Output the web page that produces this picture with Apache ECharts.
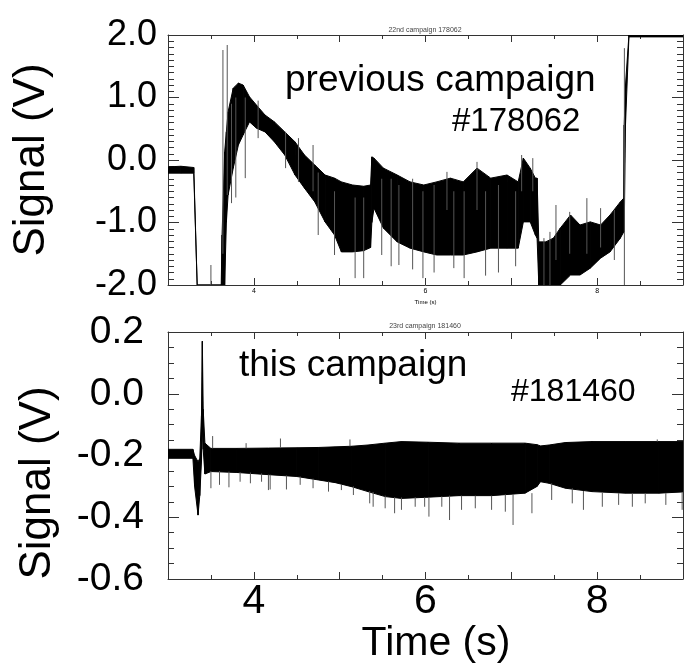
<!DOCTYPE html>
<html><head><meta charset="utf-8">
<script src="https://cdn.jsdelivr.net/npm/echarts@6/dist/echarts.min.js"></script>
<style>html,body{margin:0;padding:0;background:#fff}#c{width:689px;height:667px}</style>
</head><body><div id="c"></div>
<script>
// ---------- DATA ----------
// Top panel: 22nd campaign #178062 — envelope of the noisy signal (V)
const topT  = [3.00, 3.15, 3.30, 3.34, 3.62, 3.63, 3.66, 3.68, 3.70, 3.76, 3.82, 3.875, 3.95, 4.03, 4.13, 4.24, 4.36, 4.48, 4.59, 4.71, 4.83, 4.94, 5.02, 5.15, 5.28, 5.36, 5.375, 5.40, 5.51, 5.67, 5.82, 5.98, 6.13, 6.29, 6.44, 6.60, 6.76, 6.95, 7.08, 7.14, 7.22, 7.28, 7.30, 7.32, 7.40, 7.49, 7.57, 7.69, 7.80, 7.92, 8.04, 8.15, 8.27, 8.31, 8.315, 8.33, 8.37, 9.00];
const topHi = [-0.11, -0.10, -0.12, -2.00, -2.00, -1.20, 0.13, 0.45, 0.77, 1.15, 1.23, 1.20, 1.01, 0.88, 0.72, 0.61, 0.45, 0.29, 0.08, -0.08, -0.24, -0.29, -0.35, -0.40, -0.42, -0.40, 0.05, 0.03, -0.13, -0.24, -0.35, -0.40, -0.35, -0.29, -0.35, -0.13, -0.29, -0.24, -0.35, 0.03, -0.13, -0.29, -0.29, -1.31, -1.31, -1.25, -1.09, -0.88, -1.04, -0.99, -1.04, -0.88, -0.67, -0.61, 0.56, 1.20, 2.00, 2.00];
const topLo = [-0.21, -0.21, -0.21, -2.00, -2.00, -2.00, -2.00, -1.00, -0.56, -0.13, 0.24, 0.40, 0.61, 0.51, 0.45, 0.29, 0.08, -0.24, -0.45, -0.67, -0.99, -1.20, -1.47, -1.47, -1.45, -1.40, -1.00, -0.77, -1.09, -1.31, -1.41, -1.47, -1.52, -1.52, -1.52, -1.47, -1.41, -1.41, -1.41, -0.99, -0.99, -1.20, -1.25, -2.00, -2.00, -2.00, -2.00, -1.84, -1.84, -1.73, -1.57, -1.47, -1.25, -1.15, -1.15, 0.56, 1.97, 1.97];
// Top panel: isolated spikes sticking out of the envelope
const topSpikeT  = [3.50, 3.64, 3.69, 3.74, 3.79, 3.90, 4.05, 4.37, 4.52, 4.69, 4.75, 4.94, 5.18, 5.28, 5.49, 5.60, 5.69, 5.85, 5.97, 6.10, 6.25, 6.33, 6.45, 6.60, 6.70, 6.85, 7.05, 7.12, 7.25, 7.38, 7.45, 7.52, 7.68, 7.88, 8.04, 8.20, 8.317];
const topSpikeLo = [-2.00, -1.50, -0.56, -0.69, -0.60, -0.29, 0.35, -0.13, -0.35, -0.50, -1.20, -1.52, -1.89, -1.89, -1.52, -1.70, -1.68, -1.75, -1.89, -1.80, -0.80, -1.73, -1.89, -0.80, -1.85, -1.80, -1.70, -0.50, -0.50, -2.00, -2.00, -1.60, -1.50, -1.50, -1.40, -1.60, -2.00];
const topSpikeHi = [-1.68, 1.76, 1.84, 0.90, 1.00, 1.00, 0.95, 0.45, 0.35, 0.24, -0.20, -0.50, -0.60, -0.60, -0.30, -0.30, -0.40, -0.30, -0.50, -0.40, -0.19, -0.50, -0.50, -0.03, -0.50, -0.40, -0.50, 0.08, 0.03, -1.25, -1.15, -0.72, -0.83, -0.61, -0.77, -0.80, 1.79];

// Bottom panel: 23rd campaign #181460 — envelope of the noisy signal (V)
const botT  = [3.00, 3.29, 3.31, 3.35, 3.37, 3.39, 3.40, 3.41, 3.43, 3.50, 3.80, 4.17, 4.50, 4.75, 4.95, 5.14, 5.33, 5.53, 5.72, 6.03, 6.39, 6.77, 7.16, 7.30, 7.34, 7.44, 7.63, 7.94, 8.33, 8.72, 9.00];
const botHi = [-0.180, -0.180, -0.200, -0.220, -0.210, -0.070, 0.170, -0.050, -0.160, -0.177, -0.177, -0.176, -0.175, -0.174, -0.172, -0.170, -0.166, -0.160, -0.155, -0.157, -0.160, -0.160, -0.160, -0.165, -0.169, -0.166, -0.158, -0.155, -0.155, -0.155, -0.155];
const botLo = [-0.209, -0.209, -0.300, -0.393, -0.330, -0.220, -0.100, -0.180, -0.260, -0.252, -0.255, -0.262, -0.268, -0.279, -0.288, -0.301, -0.317, -0.333, -0.339, -0.335, -0.330, -0.330, -0.322, -0.300, -0.285, -0.290, -0.306, -0.317, -0.322, -0.322, -0.318];
// Bottom panel: isolated spikes
const botSpikeT  = [3.50, 3.52, 3.60, 3.71, 3.84, 3.91, 3.96, 4.09, 4.17, 4.19, 4.31, 4.38, 4.54, 4.69, 4.87, 5.02, 5.12, 5.16, 5.35, 5.39, 5.53, 5.64, 5.72, 5.88, 5.99, 6.04, 6.19, 6.28, 6.42, 6.58, 6.77, 6.93, 7.02, 7.24, 7.47, 7.71, 7.84, 8.06, 8.25, 8.41, 8.56, 8.70, 8.80, 8.99];
const botSpikeLo = [-0.306, -0.177, -0.295, -0.303, -0.285, -0.177, -0.290, -0.285, -0.312, -0.310, -0.176, -0.310, -0.295, -0.306, -0.317, -0.312, -0.170, -0.328, -0.355, -0.366, -0.371, -0.387, -0.376, -0.366, -0.366, -0.398, -0.366, -0.409, -0.376, -0.371, -0.376, -0.382, -0.425, -0.387, -0.344, -0.355, -0.376, -0.366, -0.360, -0.366, -0.355, -0.155, -0.360, -0.376];
const botSpikeHi = [-0.250, -0.137, -0.250, -0.252, -0.254, -0.160, -0.255, -0.258, -0.262, -0.262, -0.145, -0.265, -0.268, -0.275, -0.284, -0.295, -0.148, -0.300, -0.315, -0.318, -0.330, -0.335, -0.336, -0.335, -0.335, -0.335, -0.332, -0.330, -0.330, -0.330, -0.330, -0.326, -0.325, -0.322, -0.290, -0.306, -0.315, -0.320, -0.322, -0.322, -0.322, -0.148, -0.322, -0.318];

// Axis tick labels
const xTickLabels = ['4', '6', '8'];

// ---------- CHART ----------
const FONT = '"Liberation Sans", Arial, sans-serif';
const chart = echarts.init(document.getElementById('c'), null, {renderer: 'canvas'});

// filled envelope: one quadrilateral per consecutive pair of samples
function band(t, lo, hi, xi, yi) {
  const segs = [];
  for (let i = 0; i < t.length - 1; i++) segs.push([t[i], lo[i], hi[i], t[i + 1], lo[i + 1], hi[i + 1]]);
  return {
    type: 'custom', xAxisIndex: xi, yAxisIndex: yi, clip: true, silent: true,
    data: segs, encode: {x: [0, 3], y: [1, 2, 4, 5]},
    renderItem: (params, api) => {
      const p1 = api.coord([api.value(0), api.value(2)]);
      const p2 = api.coord([api.value(3), api.value(5)]);
      const p3 = api.coord([api.value(3), api.value(4)]);
      const p4 = api.coord([api.value(0), api.value(1)]);
      return {type: 'polygon', shape: {points: [p1, p2, p3, p4]},
        style: {fill: '#000', stroke: '#000', lineWidth: 1}};
    }
  };
}
function spikes(t, lo, hi, xi, yi) {
  return {
    type: 'custom', xAxisIndex: xi, yAxisIndex: yi, clip: true, silent: true,
    data: t.map((x, i) => [x, lo[i], hi[i]]), encode: {x: 0, y: [1, 2]},
    renderItem: (params, api) => {
      const a = api.coord([api.value(0), api.value(1)]);
      const b = api.coord([api.value(0), api.value(2)]);
      return {type: 'line', shape: {x1: a[0], y1: a[1], x2: b[0], y2: b[1]}, style: {stroke: '#555', lineWidth: 1}};
    }
  };
}
const lineCol = '#333';
function xAx(grid, pos, showLabels, fontSize, margin, name, nameSize, nameGap, namePad) {
  return {
    type: 'value', gridIndex: grid, position: pos, min: 3, max: 9, interval: 1,
    axisLine: {show: true, onZero: false, lineStyle: {color: lineCol, width: 1}},
    axisTick: {show: true, inside: true, length: 7, lineStyle: {color: lineCol}},
    minorTick: {show: true, splitNumber: 2, length: 4, lineStyle: {color: lineCol}},
    splitLine: {show: false}, minorSplitLine: {show: false},
    axisLabel: {show: showLabels, fontSize: fontSize, color: '#000', fontFamily: FONT, margin: margin,
      formatter: v => (xTickLabels.indexOf(String(v)) >= 0 ? String(v) : '')},
    name: name, nameLocation: 'middle', nameGap: nameGap,
    nameTextStyle: {fontSize: nameSize, color: '#000', fontFamily: FONT, padding: namePad}
  };
}
function yAx(grid, pos, min, max, interval, minorSplit, showLabels, fontSize, margin, name, nameGap, namePad) {
  return {
    type: 'value', gridIndex: grid, position: pos, min: min, max: max, interval: interval,
    axisLine: {show: true, onZero: false, lineStyle: {color: lineCol, width: 1}},
    axisTick: {show: true, inside: true, length: 11, lineStyle: {color: lineCol}},
    minorTick: {show: true, splitNumber: minorSplit, length: 6, lineStyle: {color: lineCol}},
    splitLine: {show: false}, minorSplitLine: {show: false},
    axisLabel: {show: showLabels, fontSize: fontSize, color: '#000', fontFamily: FONT, margin: margin,
      formatter: v => Number(v).toFixed(1)},
    name: name, nameLocation: 'middle', nameGap: nameGap,
    nameTextStyle: {fontSize: 44, color: '#000', fontFamily: FONT, padding: namePad}
  };
}

const option = {
  animation: false,
  backgroundColor: '#fff',
  textStyle: {fontFamily: FONT},
  grid: [
    {left: 168, top: 35, width: 515, height: 250, outerBoundsMode: 'none'},
    {left: 168, top: 332, width: 515, height: 247, outerBoundsMode: 'none'}
  ],
  xAxis: [
    xAx(0, 'bottom', true, 7, 3, 'Time (s)', 6, 14, 0),
    xAx(0, 'top', false, 7, 3, '', 6, 10, 0),
    xAx(1, 'bottom', true, 41, 2, 'Time (s)', 41, 44, [0, 0, 0, 21]),
    xAx(1, 'top', false, 7, 3, '', 6, 10, 0)
  ],
  yAxis: [
    yAx(0, 'left', -2, 2, 1, 10, true, 36, 11, 'Signal (V)', 114, 0),
    yAx(0, 'right', -2, 2, 1, 10, false, 36, 11, '', 10, 0),
    yAx(1, 'left', -0.6, 0.2, 0.2, 4, true, 39, 24, 'Signal (V)', 108, [0, 55, 0, 0]),
    yAx(1, 'right', -0.6, 0.2, 0.2, 4, false, 39, 24, '', 10, 0)
  ],
  series: [
    band(topT, topLo, topHi, 0, 0),
    spikes(topSpikeT, topSpikeLo, topSpikeHi, 0, 0),
    band(botT, botLo, botHi, 2, 2),
    spikes(botSpikeT, botSpikeLo, botSpikeHi, 2, 2)
  ],
  graphic: [
    {type: 'text', x: 425, y: 30, style: {text: '22nd campaign 178062', fontSize: 7, fontFamily: FONT, fill: '#444', align: 'center', verticalAlign: 'middle'}},
    {type: 'text', x: 425, y: 326, style: {text: '23rd campaign 181460', fontSize: 7, fontFamily: FONT, fill: '#444', align: 'center', verticalAlign: 'middle'}},
    {type: 'text', x: 285, y: 80.5, style: {text: 'previous campaign', fontSize: 37, fontFamily: FONT, fill: '#000', align: 'left', verticalAlign: 'middle'}},
    {type: 'text', x: 452, y: 122, style: {text: '#178062', fontSize: 33, fontFamily: FONT, fill: '#000', align: 'left', verticalAlign: 'middle'}},
    {type: 'text', x: 239, y: 365.5, style: {text: 'this campaign', fontSize: 37, fontFamily: FONT, fill: '#000', align: 'left', verticalAlign: 'middle'}},
    {type: 'text', x: 511, y: 392, style: {text: '#181460', fontSize: 32, fontFamily: FONT, fill: '#000', align: 'left', verticalAlign: 'middle'}}
  ]
};
chart.setOption(option);
</script></body></html>
